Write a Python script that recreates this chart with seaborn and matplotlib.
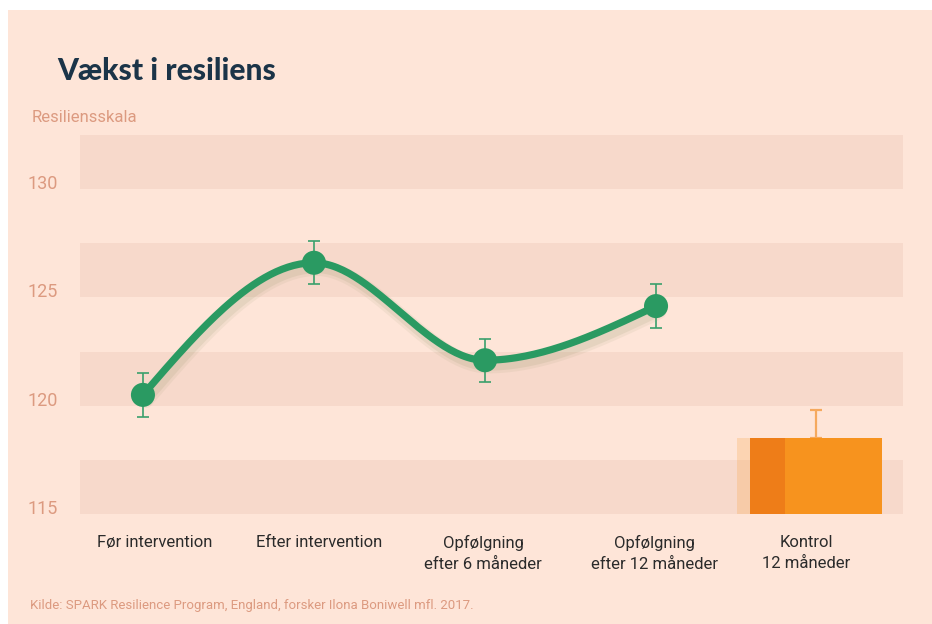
import numpy as np
import pandas as pd
import seaborn as sns
import matplotlib
matplotlib.use("Agg")
import matplotlib.pyplot as plt
import matplotlib.patheffects as pe
from matplotlib.patches import Rectangle

# ---------------- data ----------------
categories = ["Før intervention", "Efter intervention", "Opfølgning\nefter 6 måneder",
              "Opfølgning\nefter 12 måneder", "Kontrol\n12 måneder"]
line_values = [120.5, 126.6, 122.1, 124.6]
line_errors = [1.0, 1.0, 1.0, 1.0]
control_value = 118.5
control_error = 1.3
y_ticks = [115, 120, 125, 130]
title = "Vækst i resiliens"
y_label = "Resiliensskala"
source = "Kilde: SPARK Resilience Program, England, forsker Ilona Boniwell mfl. 2017."

# ---------------- style ----------------
BG = "#fee5d8"
BAND = "#f7d9cb"
GREEN = "#2a9a62"
ORANGE = "#f7931e"
ORANGE_DARK = "#ee7d18"
SALMON = "#dc9a80"
NAVY = "#1b3448"

sns.set_theme(style="white")
plt.rcParams["font.family"] = ["Roboto", "DejaVu Sans"]

W, H = 932, 624
fig = plt.figure(figsize=(W / 100, H / 100), dpi=100, facecolor="white")
fig.patches.append(Rectangle((8 / W, 0), 1, (H - 10) / H, transform=fig.transFigure,
                             facecolor=BG, edgecolor="none", zorder=-10))

ax = fig.add_axes([80 / W, (H - 514) / H, (903 - 80) / W, (514 - 135) / H])
ax.set_facecolor(BG)
for s in ax.spines.values():
    s.set_visible(False)

ax.set_xlim(-0.368, 4.444)
ax.set_ylim(115, 132.5)

# alternating bands
for lo in y_ticks:
    ax.axhspan(lo, lo + 2.5, color=BAND, zorder=0, lw=0)

# smooth monotone curve (d3 curveMonotoneX style) through the data points
xs = np.arange(len(line_values), dtype=float)
ys = np.array(line_values, dtype=float)
sec = np.diff(ys) / np.diff(xs)
tan = np.zeros_like(ys)
for i in range(1, len(ys) - 1):
    s0, s1 = sec[i - 1], sec[i]
    p = (s0 + s1) / 2
    tan[i] = (np.sign(s0) + np.sign(s1)) * min(abs(s0), abs(s1), 0.5 * abs(p))
tan[0] = (3 * sec[0] - tan[1]) / 2
tan[-1] = (3 * sec[-1] - tan[-2]) / 2
cx, cy = [], []
for i in range(len(ys) - 1):
    t = np.linspace(0, 1, 60)
    h = xs[i + 1] - xs[i]
    h00 = 2 * t**3 - 3 * t**2 + 1
    h10 = t**3 - 2 * t**2 + t
    h01 = -2 * t**3 + 3 * t**2
    h11 = t**3 - t**2
    cx.extend(xs[i] + t * h)
    cy.extend(h00 * ys[i] + h10 * h * tan[i] + h01 * ys[i + 1] + h11 * h * tan[i + 1])
curve = pd.DataFrame({"x": cx, "y": cy})

sns.lineplot(data=curve, x="x", y="y", ax=ax, color=GREEN, linewidth=5.2, sort=False,
             zorder=3, estimator=None,
             path_effects=[pe.SimpleLineShadow(offset=(2, -4), shadow_color="#9a9a70", alpha=0.10, linewidth=11),
                           pe.SimpleLineShadow(offset=(2, -4), shadow_color="#9a9a70", alpha=0.15, linewidth=7),
                           pe.Normal()])

# points with error bars
ax.errorbar(xs, ys, yerr=line_errors, fmt="none", ecolor="#3aa06c", elinewidth=1.2,
            capsize=4, capthick=1.2, zorder=2)
pts = pd.DataFrame({"x": xs, "y": ys})
sns.scatterplot(data=pts, x="x", y="y", ax=ax, color=GREEN, s=300, edgecolor="none", zorder=4)

# control bar
bx = 4 - 0.065
bw = 0.77
ax.bar([bx], [control_value], width=bw, bottom=0, color=ORANGE, zorder=2, lw=0)
ax.bar([bx - bw / 2], [control_value], width=0.205, bottom=0, align="edge", color=ORANGE_DARK, zorder=2, lw=0)
ax.bar([bx - bw / 2 - 0.075], [control_value], width=0.075, bottom=0, align="edge",
       color=ORANGE, alpha=0.2, zorder=2, lw=0)
ax.errorbar([bx], [control_value], yerr=[[0], [control_error]], fmt="none", ecolor="#f5a95e",
            elinewidth=1.6, capsize=4, capthick=1.6, zorder=1)

# axes ticks
ax.set_yticks(y_ticks)
ax.set_yticklabels([str(v) for v in y_ticks], color=SALMON, fontsize=13)
for lab in ax.get_yticklabels():
    lab.set_verticalalignment("baseline")
ax.tick_params(axis="y", length=0, pad=16)
ax.set_xticks(np.arange(len(categories)) + np.array([0.07, 0.03, -0.01, -0.01, -0.12]))
ax.set_xticklabels(categories, color="#2b2b2b", fontsize=12, linespacing=1.55, va="top")
ax.tick_params(axis="x", length=0, pad=15)
ax.set_xlabel("")
ax.set_ylabel("")

# texts
fig.text(57 / W, 1 - 71 / H, title, fontsize=21.5, fontweight="black", color=NAVY,
         family=["Lato", "DejaVu Sans"], va="center", ha="left")
fig.text(32 / W, 1 - 117 / H, y_label, fontsize=12, color=SALMON, va="center", ha="left")
fig.text(30 / W, 1 - 606 / H, source, fontsize=9.5, color=SALMON, va="center", ha="left")

fig.savefig("out.png", dpi=100, facecolor="white")
